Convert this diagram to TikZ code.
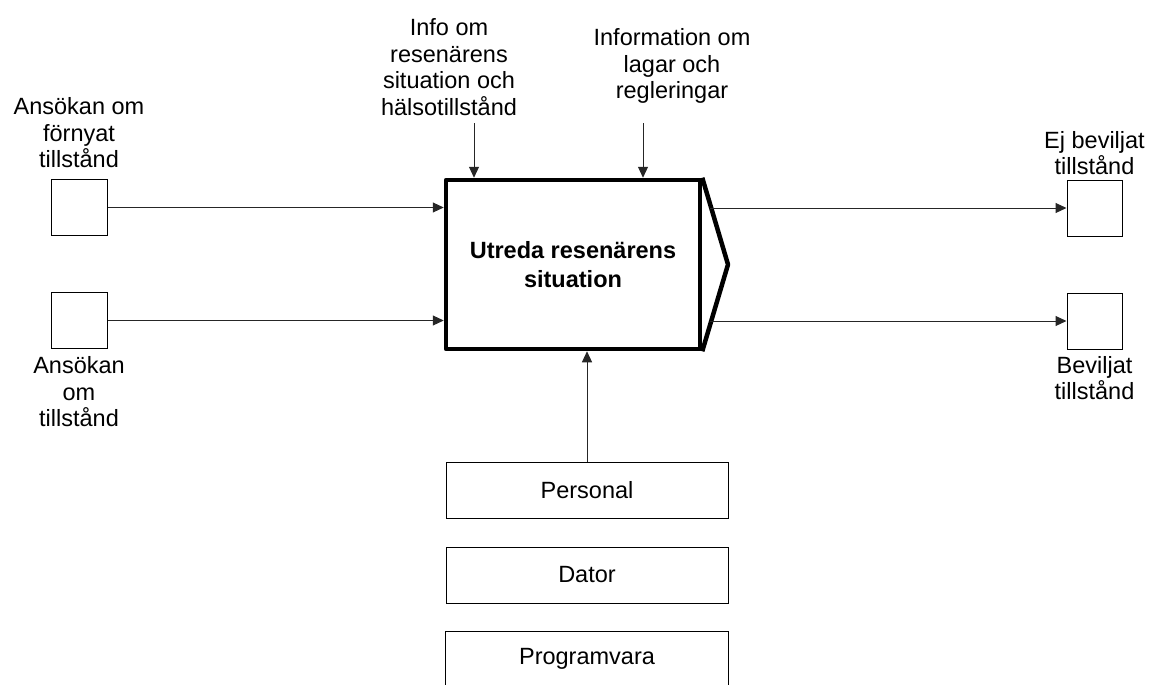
\documentclass[tikz,border=0pt]{standalone}
\usepackage{fontspec}
\setmainfont{Liberation Sans}
\usetikzlibrary{arrows.meta}
\begin{document}
\begin{tikzpicture}[x=1pt,y=-1pt,
  lbl/.style={align=center,inner sep=0pt,font=\fontsize{23.5}{26.5}\selectfont},
  port/.style={draw=black,line width=1pt,inner sep=0pt,minimum width=56pt,minimum height=56pt},
  res/.style={draw=black,line width=1pt,inner sep=0pt,minimum width=282pt,minimum height=56pt,font=\fontsize{23.5}{26.5}\selectfont},
  arr/.style={line width=1pt,draw=black!85,-{Triangle[length=11pt,width=10pt]}},
  ln/.style={line width=1pt,draw=black}]
\useasboundingbox (0,0) rectangle (1149,685);

% activity box with output chevron
\node[draw=black,line width=4.5pt,line join=round,minimum width=254pt,minimum height=169pt,inner sep=0pt,
      align=center,font=\bfseries\fontsize{23.5}{29}\selectfont] (main) at (573,264.5)
  {Utreda resenärens\\situation};
\coordinate (tip) at (728,264.5);
\draw[line width=4.5pt,line join=round] (main.north east) -- (tip) -- (main.south east);

% inputs
\node[port] (in1) at (79,207.5) {};
\node[port] (in2) at (79,320.5) {};
\node[lbl] (in1l) at (79,133) {Ansökan om\\förnyat\\tillstånd};
\node[lbl] (in2l) at (79,392) {Ansökan\\om\\tillstånd};
\draw[arr] (in1.east) -- (in1.east -| main.west);
\draw[arr] (in2.east) -- (in2.east -| main.west);

% controls
\node[lbl] (c1l) at (449,67) {Info om\\resenärens\\situation och\\hälsotillstånd};
\node[lbl] (c2l) at (672,66) {Information om\\lagar och\\regleringar};
\coordinate (c1) at (474,123);
\coordinate (c2) at (643,123);
\draw[arr] (c1) -- (c1 |- main.north);
\draw[arr] (c2) -- (c2 |- main.north);

% outputs
\node[port,minimum width=55pt] (out1) at (1094.5,208) {};
\node[port,minimum width=55pt] (out2) at (1094.5,321) {};
\node[lbl] (out1l) at (1094.5,153) {Ej beviljat\\tillstånd};
\node[lbl] (out2l) at (1094.5,378) {Beviljat\\tillstånd};
\coordinate (o1) at (710,208);
\coordinate (o2) at (710,321);
\draw[arr] (o1) -- (out1.west);
\draw[arr] (o2) -- (out2.west);

% mechanisms
\node[res] (pers) at (587,490.5) {Personal};
\node[res] (dator) at (587,575) {Dator};
\node[res,draw=none,minimum height=53pt] (prog) at (587,658.5) {Programvara};
\draw[ln] (prog.south west) -- (prog.north west) -- (prog.north east) -- (prog.south east);
\draw[arr] (pers.north) -- (pers.north |- main.south);
\end{tikzpicture}
\end{document}
